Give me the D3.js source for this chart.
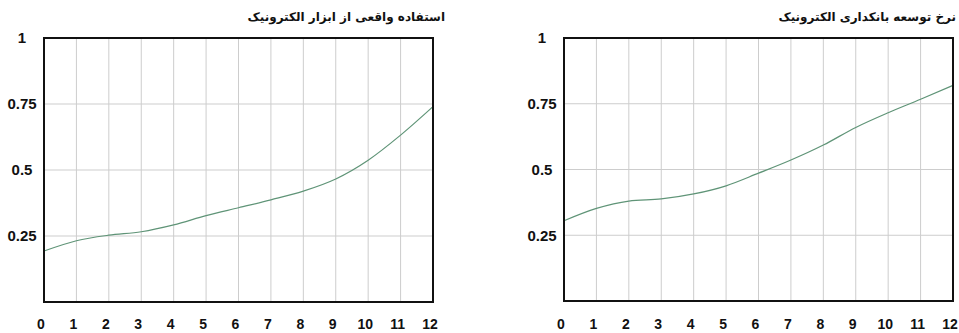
<!DOCTYPE html>
<html>
<head>
<meta charset="utf-8">
<script src="https://cdn.jsdelivr.net/npm/d3@7"></script>
<style>
  body { margin: 0; background: #fff; }
  svg { display: block; }
</style>
</head>
<body>
<div id="chart"></div>
<script>
// values
const xTicks = [0, 1, 2, 3, 4, 5, 6, 7, 8, 9, 10, 11, 12];
const yTicks = [0.25, 0.5, 0.75, 1];
const yTickLabels = ["0.25", "0.5", "0.75", "1"];

const usageTitle = "استفاده واقعی از ابزار الکترونیک";
const usageValues = [0.193, 0.232, 0.253, 0.266, 0.292, 0.327, 0.357, 0.387, 0.42, 0.466, 0.537, 0.632, 0.74];

const bankingTitle = "نرخ توسعه بانکداری الکترونیک";
const bankingValues = [0.305, 0.352, 0.38, 0.388, 0.407, 0.438, 0.486, 0.536, 0.593, 0.66, 0.716, 0.767, 0.82];

const width = 959;
const height = 333;
const lineColor = "#5f9477";
const gridColor = "#cdcdcd";

const svg = d3.select("#chart")
    .append("svg")
    .attr("width", width)
    .attr("height", height);

drawPanel = (opts) => {
    const x = d3.scaleLinear().domain([0, 12]).range([opts.left, opts.right]);
    const y = d3.scaleLinear().domain([0, 1]).range([opts.bottom, opts.top]);
    const g = svg.append("g");

    // vertical grid
    g.selectAll(".vgrid")
        .data(xTicks.slice(1, -1))
        .join("line")
        .attr("x1", d => x(d)).attr("x2", d => x(d))
        .attr("y1", opts.top).attr("y2", opts.bottom)
        .attr("stroke", gridColor).attr("stroke-width", 1);

    // horizontal grid
    g.selectAll(".hgrid")
        .data(yTicks.slice(0, -1))
        .join("line")
        .attr("x1", opts.left).attr("x2", opts.right)
        .attr("y1", d => y(d)).attr("y2", d => y(d))
        .attr("stroke", gridColor).attr("stroke-width", 1);

    const line = d3.line()
        .x((d, i) => x(xTicks[i]))
        .y(d => y(d))
        .curve(d3.curveMonotoneX);

    g.append("path")
        .attr("d", line(opts.values))
        .attr("fill", "none")
        .attr("stroke", lineColor)
        .attr("stroke-width", 1.2);

    // frame
    g.append("rect")
        .attr("x", opts.left).attr("y", opts.top)
        .attr("width", opts.right - opts.left)
        .attr("height", opts.bottom - opts.top)
        .attr("fill", "none")
        .attr("stroke", "#111")
        .attr("stroke-width", 2);

    // y labels
    g.selectAll(".ylab")
        .data(yTicks)
        .join("text")
        .attr("x", opts.left - 22)
        .attr("y", d => y(d))
        .attr("dy", "0.36em")
        .attr("text-anchor", "middle")
        .attr("font-family", "Liberation Sans, Arial, sans-serif")
        .attr("font-weight", "bold")
        .attr("font-size", 15)
        .attr("fill", "#111")
        .text((d, i) => yTickLabels[i]);

    // x labels
    g.selectAll(".xlab")
        .data(xTicks)
        .join("text")
        .attr("x", d => x(d) - 3)
        .attr("y", 329)
        .attr("text-anchor", "middle")
        .attr("font-family", "Liberation Sans, Arial, sans-serif")
        .attr("font-weight", "bold")
        .attr("font-size", 14)
        .attr("fill", "#111")
        .text(d => d);

    g.append("text")
        .attr("x", opts.titleX)
        .attr("y", 21)
        .attr("text-anchor", "end")
        .attr("font-family", "DejaVu Sans, sans-serif")
        .attr("font-weight", "bold")
        .attr("font-size", 12)
        .attr("fill", "#111")
        .text(opts.title);
}

drawPanel({ left: 44, right: 433, top: 38, bottom: 302, values: usageValues, title: usageTitle, titleX: 445 });
drawPanel({ left: 564, right: 953, top: 38, bottom: 301, values: bankingValues, title: bankingTitle, titleX: 956 });
</script>
</body>
</html>
